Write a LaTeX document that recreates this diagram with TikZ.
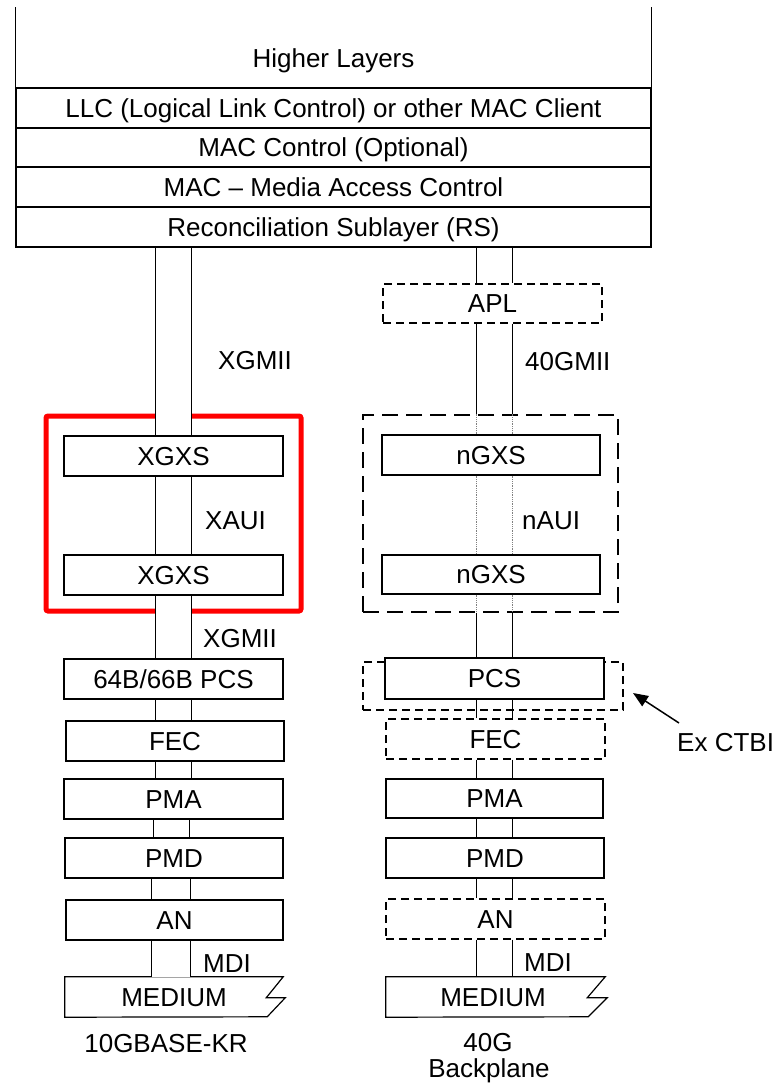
\documentclass[tikz,border=0pt]{standalone}
\usepackage{fontspec}
\setmainfont{Liberation Sans}
\usetikzlibrary{arrows.meta}
\tikzset{
  txt/.style={font=\fontsize{26}{31}\selectfont, inner sep=0pt, text height=18.6pt, text depth=0pt},
  layer/.style={txt, draw, rectangle, line width=1.2pt, fill=white, minimum width=635pt, minimum height=40pt},
  blk/.style={txt, draw, rectangle, line width=1.2pt, fill=white, minimum width=219pt, minimum height=40pt},
  dblk/.style={blk, dash pattern=on 8pt off 5pt},
  ext/.style={draw, dash pattern=on 8pt off 5pt, line width=1.2pt, rectangle, inner sep=0pt},
  busline/.style={line width=1.2pt},
  dotbus/.style={line width=0.8pt, gray, densely dotted},
  lbl/.style={txt, anchor=west},
}
\newcommand\busseg[4]{%
  \fill[white] (#1.south -| #3,0) rectangle (#2.north -| #4,0);
  \draw[busline] (#1.south -| #3,0) -- (#2.north -| #3,0) (#1.south -| #4,0) -- (#2.north -| #4,0);}
\begin{document}
\begin{tikzpicture}[x=1pt,y=-1pt]
\useasboundingbox (0,0) rectangle (782,1086);
\fill[white] (0,0) rectangle (782,1086);

% top stack
\node[txt] (hl) at (333.5,58) {Higher Layers};
\node[layer] (llc) at (333.5,108) {LLC (Logical Link Control) or other MAC Client};
\node[layer, minimum height=39pt] (macc) at (333.5,147.5) {MAC Control (Optional)};
\node[layer] (mac) at (333.5,187) {MAC -- Media Access Control};
\node[layer] (rs) at (333.5,227) {Reconciliation Sublayer (RS)};
\draw[line width=1.2pt] (llc.north west) -- ++(0,-80) (llc.north east) -- ++(0,-80);

% enclosing boxes
\node[draw=red, line width=5pt, rounded corners=2pt, minimum width=255pt, minimum height=195pt, inner sep=0pt] (redbox) at (173.5,513.5) {};
\node[draw, line width=2.8pt, dash pattern=on 16pt off 8pt, minimum width=255pt, minimum height=197pt, inner sep=0pt] (ngx) at (490.5,513.5) {};
\node[ext, minimum width=260pt, minimum height=48pt] (pcsx) at (493,686) {};

% left column
\node[blk] (xgxs1) at (173.5,456) {XGXS};
\node[blk] (xgxs2) at (173.5,575) {XGXS};
\node[blk] (pcs1) at (173.5,679) {64B/66B PCS};
\node[blk, minimum width=218pt] (fec1) at (175,741) {FEC};
\node[blk] (pma1) at (173.5,799) {PMA};
\node[blk, minimum width=218pt] (pmd1) at (174,858) {PMD};
\node[blk, minimum width=217pt] (an1) at (174.5,920) {AN};
\node[txt, minimum width=218pt, minimum height=40pt] (med1) at (174,997) {MEDIUM};
\draw[line width=1.2pt] (med1.north west) -- (med1.north east) -- ++(-17,21) -- ++(19,0) -- ++(-18,19) -- (med1.south west) -- cycle;

% right column
\node[dblk, minimum height=39pt] (apl) at (492.5,303.5) {APL};
\node[blk, minimum width=218pt] (ngxs1) at (491,455) {nGXS};
\node[blk, minimum width=218pt, minimum height=39pt] (ngxs2) at (491,574.5) {nGXS};
\node[blk, minimum height=41pt] (pcs2) at (494.5,678.5) {PCS};
\node[dblk] (fec2) at (495.5,739) {FEC};
\node[blk, minimum width=217pt, minimum height=39pt] (pma2) at (494.5,798.5) {PMA};
\node[blk, minimum width=218pt] (pmd2) at (495,858) {PMD};
\node[dblk] (an2) at (495.5,919) {AN};
\node[txt, minimum width=219pt, minimum height=40pt] (med2box) at (495.5,997) {};
\node[txt] (med2) at (493,997) {MEDIUM};
\draw[line width=1.2pt] (med2box.north west) -- (med2box.north east) -- ++(-18,21) -- ++(20,0) -- ++(-19,19) -- (med2box.south west) -- cycle;

% left buses
\busseg{rs}{xgxs1}{155.5}{191.5}
\busseg{xgxs1}{xgxs2}{155.5}{191.5}
\busseg{xgxs2}{pcs1}{155.5}{191.5}
\busseg{pcs1}{fec1}{155.5}{191.5}
\busseg{fec1}{pma1}{155.5}{191.5}
\busseg{pma1}{pmd1}{153.5}{189.5}
\busseg{pmd1}{an1}{151.5}{190.5}
\busseg{an1}{med1}{151.5}{190.5}

% right buses
\draw[busline] (rs.south -| 476.5,0) -- (apl.north -| 476.5,0) (rs.south -| 512.5,0) -- (apl.north -| 512.5,0);
\draw[busline] (apl.south -| 476.5,0) -- (ngx.north -| 476.5,0) (apl.south -| 512.5,0) -- (ngx.north -| 512.5,0);
\draw[dotbus] (ngx.north -| 476.5,0) -- (ngxs1.north -| 476.5,0) (ngx.north -| 512.5,0) -- (ngxs1.north -| 512.5,0);
\draw[dotbus] (ngxs1.south -| 476.5,0) -- (ngxs2.north -| 476.5,0) (ngxs1.south -| 512.5,0) -- (ngxs2.north -| 512.5,0);
\draw[dotbus] (ngxs2.south -| 476.5,0) -- (ngx.south -| 476.5,0) (ngxs2.south -| 512.5,0) -- (ngx.south -| 512.5,0);
\draw[busline] (ngx.south -| 476.5,0) -- (pcs2.north -| 476.5,0) (ngx.south -| 512.5,0) -- (pcs2.north -| 512.5,0);
\draw[busline] (pcs2.south -| 476.5,0) -- (fec2.north -| 476.5,0) (pcs2.south -| 512.5,0) -- (fec2.north -| 512.5,0);
\draw[busline] (fec2.south -| 476.5,0) -- (pma2.north -| 476.5,0) (fec2.south -| 512.5,0) -- (pma2.north -| 512.5,0);
\draw[busline] (pma2.south -| 476.5,0) -- (pmd2.north -| 476.5,0) (pma2.south -| 512.5,0) -- (pmd2.north -| 512.5,0);
\draw[busline] (pmd2.south -| 476.5,0) -- (an2.north -| 476.5,0) (pmd2.south -| 512.5,0) -- (an2.north -| 512.5,0);
\draw[busline] (an2.south -| 476.5,0) -- (med2box.north -| 476.5,0) (an2.south -| 512.5,0) -- (med2box.north -| 512.5,0);

% labels
\node[lbl] (xgmii1) at (218,360) {XGMII};
\node[lbl] (xaui) at (205,520) {XAUI};
\node[lbl] (xgmii2) at (203,638) {XGMII};
\node[lbl] (mdi1) at (203,963) {MDI};
\node[lbl] (g40mii) at (525,361) {40GMII};
\node[lbl] (naui) at (522,520) {nAUI};
\node[lbl] (mdi2) at (524,962) {MDI};
\node[lbl] (ctbi) at (677,742) {Ex CTBI};
\node[txt] (kr) at (166,1043) {10GBASE-KR};
\node[txt] (g40) at (488,1042) {40G};
\node[txt] (bpl) at (489,1068) {Backplane};

% arrow
\coordinate (ctbitail) at (679,723);
\coordinate (ctbitip) at (633,693);
\draw[line width=1.5pt, -{Triangle[length=15pt,width=12pt]}] (ctbitail) -- (ctbitip);
\end{tikzpicture}
\end{document}
